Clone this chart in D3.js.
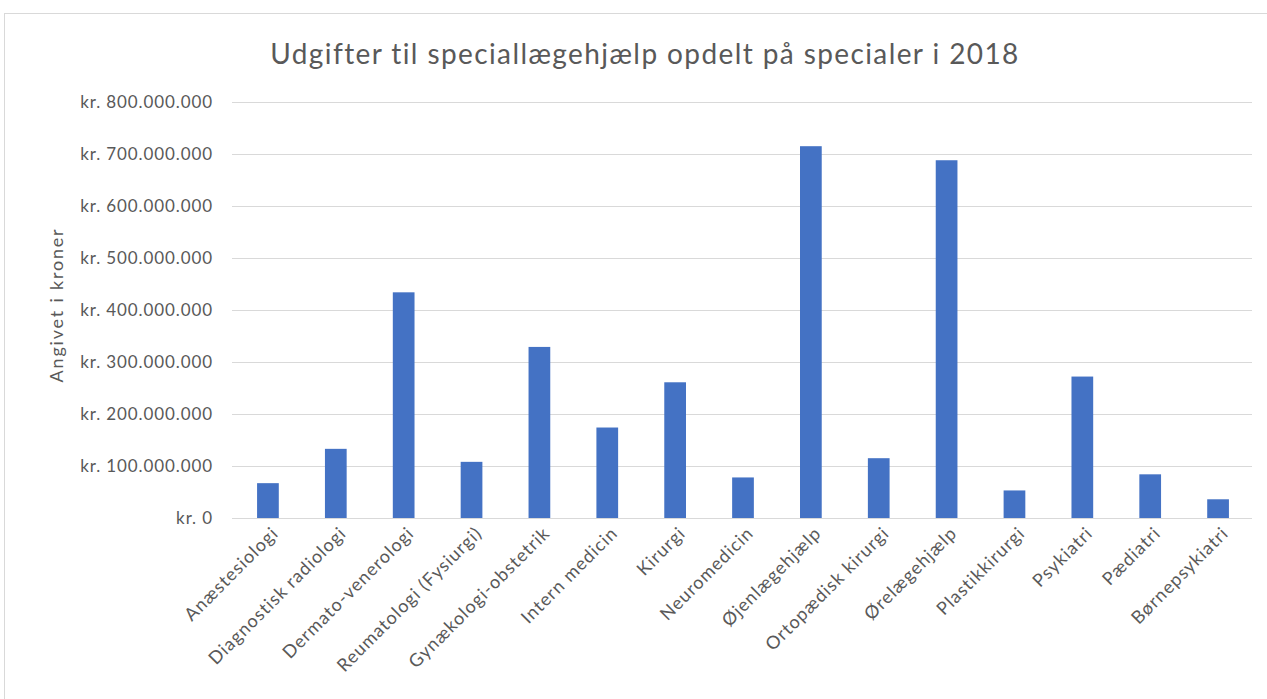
<!DOCTYPE html>
<html><head><meta charset="utf-8">
<script src="https://cdnjs.cloudflare.com/ajax/libs/d3/7.8.5/d3.min.js"></script>
<style>body{margin:0;background:#fff}svg{display:block}</style>
</head><body><svg id="c" width="1267" height="699"></svg>
<script>
const categories = ["Anæstesiologi","Diagnostisk radiologi","Dermato-venerologi","Reumatologi (Fysiurgi)","Gynækologi-obstetrik","Intern medicin","Kirurgi","Neuromedicin","Øjenlægehjælp","Ortopædisk kirurgi","Ørelægehjælp","Plastikkirurgi","Psykiatri","Pædiatri","Børnepsykiatri"];
const values = [67000000,133000000,434000000,108000000,329000000,174000000,261000000,78000000,715000000,115000000,688000000,53000000,272000000,84000000,36000000];
const yTicks = [0,100000000,200000000,300000000,400000000,500000000,600000000,700000000,800000000];
const title = "Udgifter til speciallægehjælp opdelt på specialer i 2018";
const yTitle = "Angivet i kroner";

const svg = d3.select("#c");
const font = "Lato, 'Open Sans', sans-serif";
const grey = "#595959";

svg.append("rect").attr("x",4.5).attr("y",13.5).attr("width",1300).attr("height",700)
  .attr("fill","#fff").attr("stroke","#d9d9d9");

const x = d3.scaleBand().domain(categories).range([234,1252]).paddingInner(0.68).paddingOuter(0.34);
const y = d3.scaleLinear().domain([0,800000000]).range([518,102]);

const fmt = v => v===0 ? "kr. 0" : "kr. " + d3.format(",")(v).replace(/,/g,".");

const gy = svg.append("g").attr("transform","translate(232,0)")
  .call(d3.axisLeft(y).tickValues(yTicks).tickSize(-(1252-232)).tickPadding(19).tickFormat(fmt));
gy.select(".domain").remove();
gy.selectAll(".tick line").attr("stroke","#d9d9d9").attr("stroke-width",1);
gy.selectAll(".tick text").attr("fill",grey).attr("font-family",font).attr("font-size",17)
  .attr("letter-spacing","0.9px");

svg.append("g").selectAll("rect").data(values).join("rect")
  .attr("x",(d,i)=>x(categories[i])).attr("width",x.bandwidth())
  .attr("y",d=>y(d)).attr("height",d=>y(0)-y(d)).attr("fill","#4472C4");

const gx = svg.append("g").attr("transform","translate(0,518)")
  .call(d3.axisBottom(x).tickSize(0).tickPadding(0));
gx.select(".domain").remove();
gx.selectAll(".tick text").attr("fill",grey).attr("font-family",font).attr("font-size",18)
  .attr("letter-spacing","1px")
  .attr("text-anchor","end").attr("dy","0.35em")
  .attr("transform","translate(7,12) rotate(-45)");

svg.append("text").attr("x",645).attr("y",64).attr("text-anchor","middle")
  .attr("font-family",font).attr("font-size",28).attr("letter-spacing","1.4px").attr("fill",grey).text(title);

svg.append("text").attr("transform","translate(63,305) rotate(-90)").attr("text-anchor","middle")
  .attr("font-family",font).attr("font-size",18).attr("letter-spacing","1.8px").attr("fill",grey).text(yTitle);
</script></body></html>
